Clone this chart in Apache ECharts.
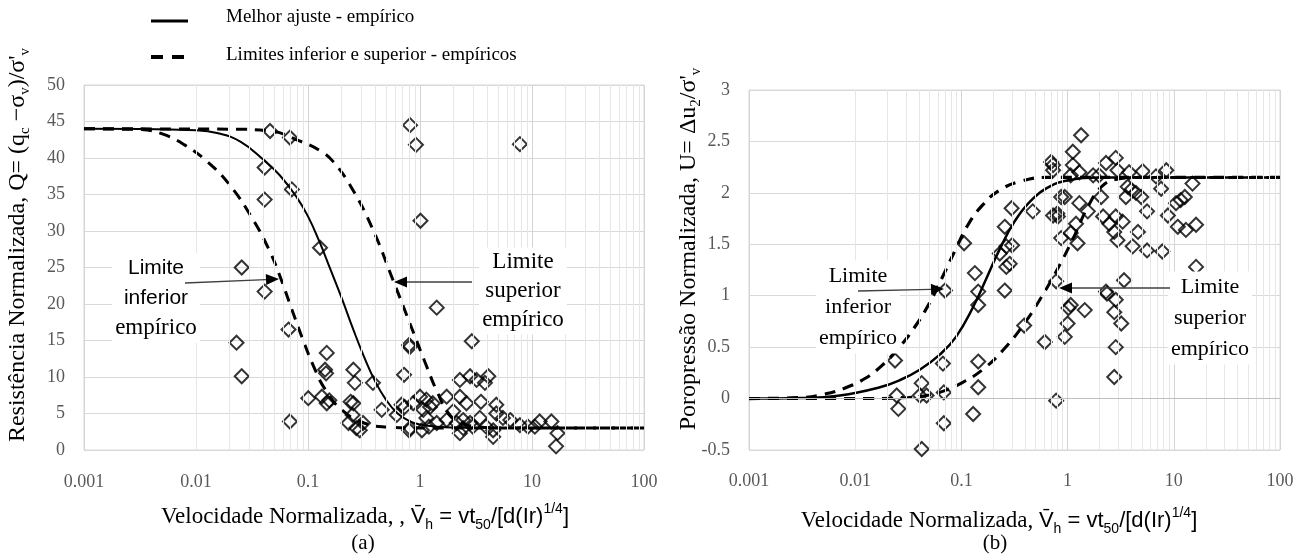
<!DOCTYPE html>
<html>
<head>
<meta charset="utf-8">
<script src="https://cdn.jsdelivr.net/npm/echarts@6/dist/echarts.min.js"></script>
<style>
html,body{margin:0;padding:0;background:#fff;}
#c{width:1308px;height:555px;}
</style>
</head>
<body>
<div id="c"></div>
<script>
// ---------- data ----------
const xTickLabels = ['0.001', '0.01', '0.1', '1', '10', '100'];

// (a) Q vs normalized velocity
const qPoints = [
  [0.0458,43.7],[0.069,42.8],[0.041,38.7],[0.0717,35.7],[0.041,34.3],[0.128,27.7],[0.0256,25.0],[0.041,21.7],
  [0.067,16.5],[0.023,14.7],[0.147,13.3],[0.142,11.0],[0.145,10.5],[0.0256,10.1],[0.254,11.0],[0.262,9.2],
  [0.1006,7.1],[0.133,7.3],[0.147,6.4],[0.155,6.8],[0.254,6.4],[0.069,3.9],[0.23,3.7],[0.25,4.8],[0.27,3.0],
  [0.815,44.5],[0.92,41.8],[7.8,41.9],[1.01,31.4],[1.41,19.5],[0.8,14.4],[0.81,14.1],[2.9,14.9],[0.72,10.3],
  [0.38,9.2],[0.24,6.6],[0.455,5.5],[0.62,4.8],[0.73,5.9],[0.87,6.4],[1.0,7.3],[1.14,6.9],[1.23,5.9],[1.07,5.5],
  [1.14,4.4],[1.04,2.7],[1.41,3.7],[1.73,7.3],[2.27,9.6],[2.8,10.1],[3.2,9.6],[4.07,10.1],[3.8,9.2],[2.27,7.3],
  [2.6,6.4],[3.5,6.6],[4.8,6.2],[1.98,5.3],[2.43,4.1],[1.73,4.1],[2.13,3.7],[2.8,3.7],[3.42,4.4],[3.9,3.2],
  [2.96,3.2],[2.43,3.0],[4.5,2.7],[5.5,4.4],[4.8,5.0],[6.4,4.1],[4.5,1.8],[7.8,3.4],[9.2,3.2],[11.7,3.9],
  [10.6,3.2],[14.9,3.9],[16.9,2.3],[16.4,0.5],[0.815,3.0],[0.31,3.7],[0.29,2.7],[1.3,6.4],[0.685,6.2],
  [2.27,2.3],[0.8,2.7],[1.2,3.2]
];
const qBestFit = [
  [0.001,44],[0.01,43.8],[0.0158,43.4],[0.0251,42.2],[0.0398,39.8],[0.0562,37.6],[0.0794,34.6],[0.1,32.0],
  [0.126,28.6],[0.158,24.8],[0.2,20.8],[0.251,16.7],[0.316,12.8],[0.398,9.4],[0.501,6.8],[0.631,5.0],
  [0.794,4.0],[1,3.5],[1.41,3.2],[2.51,3.05],[100,3.0]
];
const qLowerLimit = [
  [0.001,44],[0.00316,43.9],[0.005,43.3],[0.0079,41.8],[0.0126,39.5],[0.02,36.3],[0.0316,31.8],[0.0447,27.5],
  [0.0562,23.8],[0.0708,19.5],[0.0891,15.3],[0.112,11.5],[0.141,8.4],[0.2,5.5],[0.316,3.7],[0.5,3.15],
  [1,3.0],[100,3.0]
];
const qUpperLimit = [
  [0.001,44],[0.02,43.95],[0.0457,43.7],[0.085,42.3],[0.128,41.0],[0.168,39.5],[0.25,35.7],[0.38,30.2],
  [0.57,23.4],[0.81,17.4],[1.15,11.4],[1.42,8.0],[1.8,5.0],[2.24,3.8],[3.16,3.2],[6.3,3.0],[100,3.0]
];

// (b) U vs normalized velocity
const uPoints = [
  [0.0246,0.03],[0.0255,-0.1],[0.0237,0.37],[0.0423,0.15],[0.0406,0.03],[0.047,0.03],[0.0423,-0.49],[0.0683,-0.24],
  [0.0683,0.06],[0.067,0.34],[0.07,1.05],[0.106,1.51],[0.134,1.22],[0.144,1.04],[0.144,0.91],[0.144,0.36],
  [0.144,0.11],[0.129,-0.15],[0.256,1.05],[0.256,1.67],[0.265,1.48],[0.23,1.41],[0.285,1.31],[0.265,1.28],
  [0.3,1.49],[0.297,1.85],[0.47,1.82],[0.39,0.71],[0.61,0.55],[0.73,2.27],[0.73,2.22],[0.73,1.78],[0.78,1.14],
  [0.78,-0.02],[0.7,2.3],[0.81,1.77],[0.94,0.6],[1.0,0.73],[1.07,0.91],[1.02,0.88],[1.45,0.86],[0.87,1.56],
  [1.07,1.61],[1.24,1.51],[1.2,1.7],[1.29,1.9],[1.55,1.82],[0.94,1.96],[1.12,2.4],[1.12,2.27],[1.34,2.56],
  [1.07,2.17],[1.29,2.2],[1.74,2.17],[2.07,1.96],[2.3,2.29],[2.84,2.34],[2.95,2.22],[1.98,2.17],[2.16,1.77],
  [2.47,1.7],[2.84,1.77],[2.75,1.62],[2.95,1.54],[3.3,1.72],[3.54,1.96],[3.98,2.03],[3.8,2.2],[3.68,2.06],
  [4.4,2.0],[5.1,2.21],[4.94,1.96],[4.6,1.62],[4.1,1.48],[5.6,1.44],[5.6,1.82],[7.8,1.43],[7.6,2.04],[8.5,2.22],
  [6.8,2.16],[8.8,1.78],[10.5,1.9],[11.6,1.93],[12.7,1.96],[10.9,1.67],[13,1.64],[16.2,1.69],[15,2.09],
  [16.2,1.28],[2.3,1.04],[2.35,1.02],[2.84,0.96],[2.75,0.84],[3.2,0.73],[2.84,0.5],[2.75,0.21],[3.4,1.15],
  [0.87,1.96],[0.8,1.8]
];
const uBestFit = [
  [0.001,0],[0.003,0.005],[0.0072,0.03],[0.0171,0.11],[0.0264,0.18],[0.0405,0.28],[0.063,0.43],[0.089,0.6],
  [0.129,0.89],[0.174,1.18],[0.229,1.45],[0.316,1.72],[0.447,1.92],[0.676,2.06],[1,2.12],[2,2.15],[100,2.15]
];
const uLowerLimit = [
  [0.001,0],[0.00316,0.01],[0.005,0.04],[0.0079,0.1],[0.0126,0.2],[0.0178,0.32],[0.0251,0.48],[0.0355,0.68],
  [0.0501,0.93],[0.0676,1.2],[0.0891,1.46],[0.117,1.7],[0.158,1.88],[0.224,2.02],[0.355,2.11],[0.631,2.15],[100,2.15]
];
const uUpperLimit = [
  [0.001,0],[0.01,0],[0.0316,0.01],[0.05,0.035],[0.0708,0.08],[0.1,0.15],[0.158,0.28],[0.251,0.48],
  [0.398,0.74],[0.562,0.98],[0.794,1.25],[1.12,1.55],[1.58,1.88],[2.09,2.06],[2.82,2.13],[5,2.15],[100,2.15]
];

// ---------- chart ----------
const chart = echarts.init(document.getElementById('c'), null, {renderer: 'canvas'});
const SERIF = '"Liberation Serif", "Times New Roman", serif';
const SANS = '"Liberation Sans", Arial, sans-serif';
const GRAY = '#595959';

// minor (2..9) grid positions on the log axes
const minorX = [];
for (let d = -3; d <= 1; d++) for (let k = 2; k <= 9; k++) minorX.push({xAxis: k * Math.pow(10, d)});

function xAxisCfg(idx, margin) {
  return {
    type: 'log', logBase: 10, min: 0.001, max: 100, gridIndex: idx,
    axisLine: {show: false, onZero: false}, axisTick: {show: false},
    splitLine: {show: true, lineStyle: {color: '#d4d4d4', width: 1}},
    axisLabel: {
      color: GRAY, fontFamily: SERIF, fontSize: 18, margin: margin,
      formatter: v => xTickLabels[Math.round(Math.log10(v)) + 3]
    }
  };
}

function lineSeries(data, idx, dashed, width) {
  return {
    type: 'line', xAxisIndex: idx, yAxisIndex: idx, data: data, showSymbol: false,
    smooth: 0.45, silent: true,
    lineStyle: {color: '#000', width: width, type: dashed ? [11, 8] : 'solid', cap: 'butt'}
  };
}
function scatterSeries(data, idx) {
  return {
    type: 'scatter', xAxisIndex: idx, yAxisIndex: idx, data: data, symbol: 'diamond', symbolSize: 14,
    silent: true,
    itemStyle: {color: 'rgba(0,0,0,0)', borderColor: '#000', borderWidth: 2}
  };
}
function minorGrid(idx, extra) {
  return {
    type: 'line', xAxisIndex: idx, yAxisIndex: idx, data: [], silent: true,
    markLine: {
      silent: true, symbol: ['none', 'none'], label: {show: false}, animation: false,
      lineStyle: {color: '#e6e6e6', type: 'solid', width: 1},
      data: minorX.concat(extra || [])
    }
  };
}

function arrow(x1, y1, x2, y2) {
  const a = Math.atan2(y2 - y1, x2 - x1), L = 13, W = 5.5;
  const bx = x2 - L * Math.cos(a), by = y2 - L * Math.sin(a);
  return [
    {type: 'line', z: 100, shape: {x1: x1, y1: y1, x2: bx, y2: by}, style: {stroke: '#404040', lineWidth: 1.3}, silent: true},
    {type: 'polygon', z: 100, shape: {points: [[x2, y2], [bx - W * Math.sin(a), by + W * Math.cos(a)], [bx + W * Math.sin(a), by - W * Math.cos(a)]]},
      style: {fill: '#000'}, silent: true}
  ];
}
function txt(x, y, text, rich, extra) {
  return {type: 'text', x: x, y: y, silent: true, z: 50,
    style: Object.assign({text: text, rich: rich, align: 'center', verticalAlign: 'middle'}, extra || {})};
}

const xTitleRich = {
  t: {fontFamily: SERIF, fontSize: 23, color: '#000', lineHeight: 30},
  s: {fontFamily: SANS, fontSize: 22, color: '#000', lineHeight: 30},
  sub: {fontFamily: SANS, fontSize: 14, color: '#000', lineHeight: 14, verticalAlign: 'bottom'},
  sup: {fontFamily: SANS, fontSize: 14, color: '#000', lineHeight: 14, verticalAlign: 'top'}
};
const yTitleRich = {
  t: {fontFamily: SERIF, fontSize: 24, color: GRAY, lineHeight: 30},
  sub: {fontFamily: SERIF, fontSize: 15, color: GRAY, lineHeight: 14, verticalAlign: 'bottom'}
};
const annSerif = {fontFamily: SERIF, fontSize: 23, color: '#000', lineHeight: 30};
const annSans = {fontFamily: SANS, fontSize: 21, color: '#000', lineHeight: 30};
const boxStyle = {backgroundColor: '#fff', padding: [0, 3]};

const yTitleA = txt(18, 245, "{t|Resistência Normalizada, Q= (q}{sub|c}{t| −σ}{sub|v}{t|)/σ'}{sub|v}", yTitleRich);
yTitleA.rotation = Math.PI / 2;
const yTitleB = txt(689, 249, "{t|Poropressão Normalizada, U= Δu}{sub|2}{t|/σ'}{sub|v}", yTitleRich);
yTitleB.rotation = Math.PI / 2;

const graphics = [
  // legend
  {type: 'line', shape: {x1: 151, y1: 21, x2: 188, y2: 21}, style: {stroke: '#000', lineWidth: 3}, silent: true},
  {type: 'line', shape: {x1: 151, y1: 57, x2: 188, y2: 57}, style: {stroke: '#000', lineWidth: 4, lineDash: [12, 9]}, silent: true},
  {type: 'text', x: 226, y: 17, silent: true, style: {text: 'Melhor ajuste - empírico', fontFamily: SERIF, fontSize: 19, fill: '#000', verticalAlign: 'middle'}},
  {type: 'text', x: 226, y: 55, silent: true, style: {text: 'Limites inferior e superior - empíricos', fontFamily: SERIF, fontSize: 19, fill: '#000', verticalAlign: 'middle'}},
  // axis titles
  yTitleA, yTitleB,
  txt(365, 517, '{t|Velocidade Normalizada, , }{s|V\u0304}{sub|h}{s| = vt}{sub|50}{s|/[d(Ir)}{sup|1/4}{s|]}', xTitleRich),
  txt(999, 521, '{t|Velocidade Normalizada, }{s|V\u0304}{sub|h}{s| = vt}{sub|50}{s|/[d(Ir)}{sup|1/4}{s|]}', xTitleRich),
  txt(363, 543, '{t|(a)}', {t: {fontFamily: SERIF, fontSize: 21, color: '#000'}}),
  txt(995, 543, '{t|(b)}', {t: {fontFamily: SERIF, fontSize: 21, color: '#000'}}),
  // annotations (a)
  txt(156, 298, '{s|Limite}\n{s|inferior}\n{e|empírico}', {s: annSans, e: annSerif}, boxStyle),
  txt(523, 291, 'Limite\nsuperior\nempírico', {}, Object.assign({fontFamily: SERIF, fontSize: 23, fill: '#000', lineHeight: 29}, boxStyle)),
  // annotations (b)
  txt(858, 307, 'Limite\ninferior\nempírico', {}, Object.assign({fontFamily: SERIF, fontSize: 22, fill: '#000', lineHeight: 31}, boxStyle)),
  txt(1210, 318, 'Limite\nsuperior\nempírico', {}, Object.assign({fontFamily: SERIF, fontSize: 22, fill: '#000', lineHeight: 31}, boxStyle))
].concat(arrow(185, 283, 279, 279), arrow(472, 282, 394, 282), arrow(858, 291, 944, 289), arrow(1170, 288, 1059, 288));

const option = {
  backgroundColor: '#fff',
  animation: false,
  grid: [
    {left: 84, top: 85, width: 560, height: 365, show: true, borderColor: '#d9d9d9', borderWidth: 1, backgroundColor: 'transparent'},
    {left: 749, top: 90, width: 531, height: 360, show: true, borderColor: '#d9d9d9', borderWidth: 1, backgroundColor: 'transparent'}
  ],
  xAxis: [xAxisCfg(0, 23), xAxisCfg(1, 22)],
  yAxis: [
    {type: 'value', gridIndex: 0, min: 0, max: 50, interval: 5,
      axisLine: {show: false}, axisTick: {show: false},
      splitLine: {lineStyle: {color: '#d9d9d9'}},
      axisLabel: {color: GRAY, fontFamily: SERIF, fontSize: 18, margin: 19}},
    {type: 'value', gridIndex: 1, min: -0.5, max: 3, interval: 0.5,
      axisLine: {show: false}, axisTick: {show: false},
      splitLine: {lineStyle: {color: '#d9d9d9'}},
      axisLabel: {color: GRAY, fontFamily: SERIF, fontSize: 18, margin: 19}}
  ],
  series: [
    minorGrid(0),
    minorGrid(1, [{yAxis: 0, lineStyle: {color: '#bfbfbf', width: 1}}]),
    lineSeries(qBestFit, 0, false, 2),
    lineSeries(qLowerLimit, 0, true, 3),
    lineSeries(qUpperLimit, 0, true, 3),
    scatterSeries(qPoints, 0),
    lineSeries(uBestFit, 1, false, 2.5),
    lineSeries(uLowerLimit, 1, true, 3.2),
    lineSeries(uUpperLimit, 1, true, 3),
    scatterSeries(uPoints, 1)
  ],
  graphic: graphics
};
chart.setOption(option);
</script>
</body>
</html>
